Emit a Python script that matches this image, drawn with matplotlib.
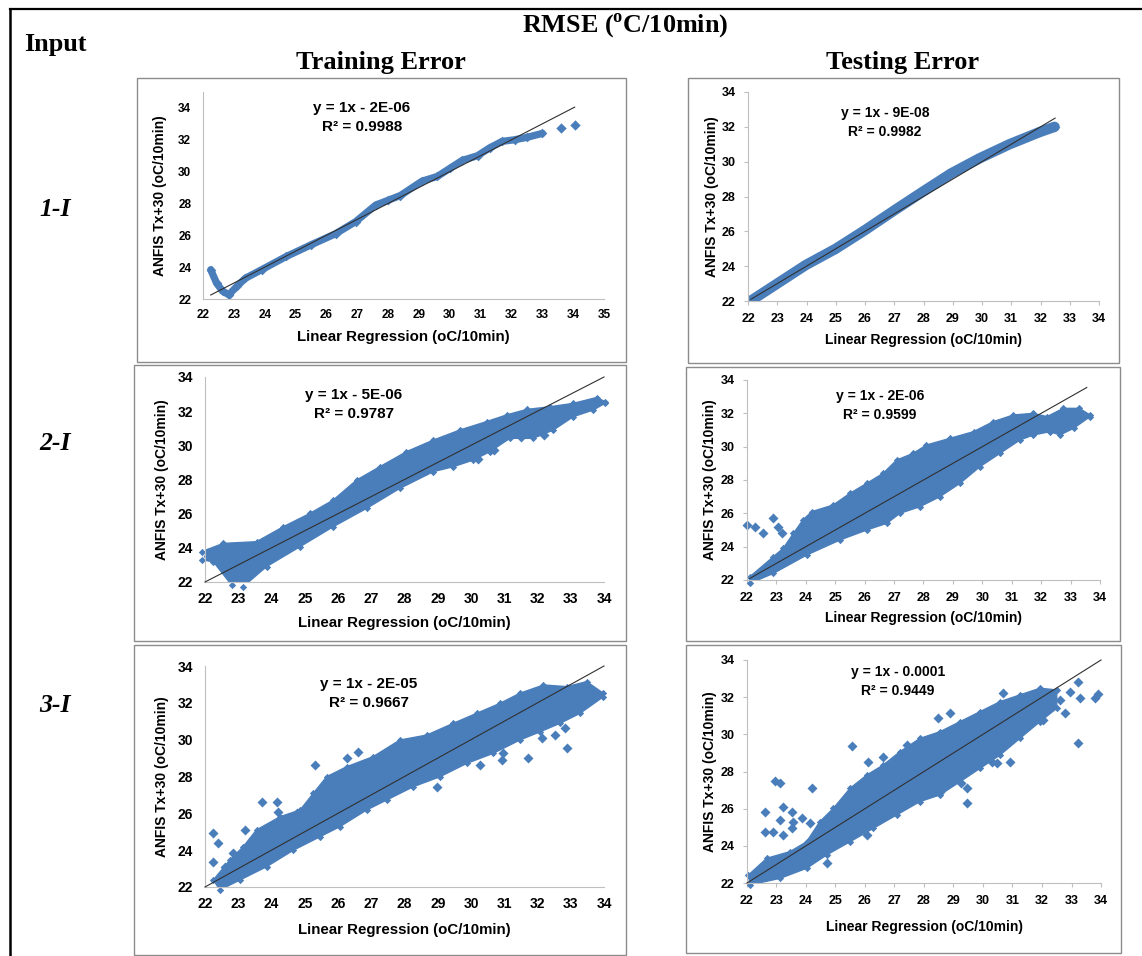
import matplotlib
matplotlib.use('Agg')
import matplotlib.pyplot as plt
from matplotlib.patches import Rectangle
from matplotlib.lines import Line2D
import numpy as np

W, H = 1142, 956
BLUE = '#4A7EBB'

# ---- 1-I training: narrow ridge of points (centre line) + two stragglers
tr1_x = [22.25, 22.44, 22.64, 22.84, 23.1, 23.37, 23.9, 24.7, 25.5, 26.3, 26.95,
         27.6, 28.0, 28.4, 29.1, 29.6, 30.0, 30.4, 30.9, 31.3, 31.7, 32.1, 32.5, 33.0]
tr1_y = [23.84, 23.0, 22.48, 22.27, 22.8, 23.3, 23.84, 24.67, 25.4, 26.1, 26.86,
         27.9, 28.2, 28.5, 29.4, 29.7, 30.2, 30.7, 31.0, 31.5, 31.9, 32.0, 32.15, 32.4]
tr1_out_x = [33.6, 34.05]
tr1_out_y = [32.75, 32.9]

# ---- 1-I testing: narrow ridge
ts1_x = [22.14, 23.0, 23.97, 25.0, 26.0, 27.0, 27.97, 28.94, 29.9, 30.94, 31.97, 32.48]
ts1_y = [22.06, 23.0, 24.06, 25.0, 26.07, 27.2, 28.27, 29.32, 30.18, 31.0, 31.7, 32.0]

# ---- 2-I training: outline of the point cloud + stray points
tr2_hi_x = [21.9, 22.55, 23.55, 24.36, 25.16, 25.86, 26.56, 27.26, 28.06, 28.87,
            29.67, 30.47, 31.07, 31.67, 32.38, 33.08, 33.78, 34.03]
tr2_hi_y = [23.78, 24.26, 24.36, 25.24, 26.02, 26.8, 27.97, 28.75, 29.63, 30.31,
            30.9, 31.39, 31.78, 32.1, 32.26, 32.46, 32.8, 32.56]
tr2_lo_x = [21.9, 22.25, 22.8, 23.15, 23.85, 24.86, 25.86, 26.86, 27.86, 28.87,
            29.47, 30.07, 30.57, 31.17, 31.87, 32.48, 33.08, 33.68, 34.03]
tr2_lo_y = [23.29, 23.19, 21.82, 21.73, 22.9, 24.07, 25.24, 26.31, 27.48, 28.46,
            28.75, 29.14, 29.63, 30.41, 30.41, 30.9, 31.68, 32.07, 32.46]
tr2_out_x = [22.1, 30.2, 30.7, 31.5, 32.2]
tr2_out_y = [23.5, 29.2, 29.7, 30.5, 30.6]

# ---- 2-I testing
ts2_hi_x = [22.1, 22.9, 23.23, 23.58, 23.9, 24.2, 24.93, 25.5, 26.07, 26.63, 27.09,
            27.65, 28.1, 28.9, 29.7, 30.37, 31.05, 31.73, 32.2, 32.75, 33.3, 33.66]
ts2_hi_y = [22.2, 23.4, 23.9, 24.8, 25.6, 26.1, 26.5, 27.2, 27.8, 28.4, 29.2,
            29.6, 30.1, 30.5, 30.9, 31.5, 31.9, 32.0, 31.8, 32.3, 32.3, 31.9]
ts2_lo_x = [22.1, 22.9, 24.03, 25.16, 26.07, 26.75, 27.2, 27.88, 28.56, 29.24,
            29.92, 30.6, 31.28, 31.73, 32.3, 32.64, 33.1, 33.66]
ts2_lo_y = [21.8, 22.4, 23.5, 24.4, 25.0, 25.4, 26.0, 26.4, 27.0, 27.8,
            28.8, 29.6, 30.4, 30.7, 30.9, 30.7, 31.1, 31.8]
ts2_out_x = [22.0, 22.27, 22.56, 22.9, 23.07, 23.18]
ts2_out_y = [25.3, 25.2, 24.8, 25.7, 25.2, 24.8]

# ---- 3-I training
tr3_hi_x = [22.25, 22.75, 23.15, 23.55, 24.26, 24.86, 25.26, 25.66, 26.26, 27.06,
            27.86, 28.67, 29.47, 30.17, 30.87, 31.47, 32.18, 32.88, 33.48, 33.98]
tr3_hi_y = [22.38, 23.47, 24.19, 25.1, 25.82, 26.18, 27.09, 27.99, 28.53, 29.08,
            29.98, 30.25, 30.89, 31.43, 31.97, 32.52, 32.97, 32.88, 33.15, 32.52]
tr3_lo_x = [22.45, 23.05, 23.85, 24.66, 25.46, 26.06, 26.86, 27.46, 28.27, 29.07,
            29.87, 30.67, 31.47, 32.08, 32.68, 33.28, 33.98]
tr3_lo_y = [21.84, 22.38, 23.1, 24.0, 24.73, 25.28, 26.18, 26.72, 27.45, 27.99,
            28.71, 29.26, 29.98, 30.43, 30.89, 31.43, 32.33]
tr3_out_x = [22.25, 22.4, 22.25, 22.6, 22.85, 23.2, 23.7, 24.16, 24.2, 24.76, 25.31, 26.26,
             26.61, 28.97, 30.27, 30.92, 30.97, 31.72, 32.13, 32.53, 32.83, 32.88, 31.17]
tr3_out_y = [24.91, 24.37, 23.38, 23.1, 23.83, 25.1, 26.63, 26.63, 26.09, 26.0, 28.62, 28.99,
             29.35, 27.45, 28.62, 28.9, 29.26, 28.99, 30.07, 30.25, 30.62, 29.53, 30.07]

# ---- 3-I testing
ts3_hi_x = [22.05, 22.67, 23.46, 24.02, 24.47, 24.93, 25.49, 26.06, 26.62, 27.19,
            27.86, 28.54, 29.22, 29.9, 30.58, 31.25, 31.93, 32.5]
ts3_hi_y = [22.43, 23.33, 23.69, 24.22, 25.3, 26.02, 27.09, 27.81, 28.35, 29.07,
            29.78, 30.14, 30.68, 31.22, 31.76, 32.12, 32.48, 32.39]
ts3_lo_x = [22.1, 23.12, 24.02, 24.7, 25.49, 26.28, 27.07, 27.86, 28.54, 29.22,
            29.9, 30.58, 31.25, 31.93, 32.5]
ts3_lo_y = [21.9, 22.25, 22.79, 23.51, 24.22, 24.94, 25.66, 26.38, 26.74, 27.45,
            28.17, 28.89, 29.78, 30.68, 31.4]
ts3_out_x = [22.95, 23.12, 24.19, 22.61, 22.61, 22.89, 23.12, 23.23, 23.51, 23.57,
             23.85, 23.23, 23.51, 24.14, 26.06, 24.7, 25.55, 26.11, 26.62, 27.41,
             28.49, 28.88, 28.54, 29.27, 29.45, 29.45, 30.29, 30.69, 30.92, 31.48,
             32.61, 32.95, 33.23, 33.29, 33.23, 33.8, 33.91, 32.78, 32.05, 30.46]
ts3_out_y = [27.49, 27.36, 27.13, 25.84, 24.76, 24.76, 25.39, 26.11, 25.84, 25.3,
             25.48, 24.58, 24.94, 25.21, 24.58, 23.06, 29.39, 28.53, 28.8, 29.43,
             30.86, 31.13, 26.91, 27.36, 27.09, 26.29, 28.53, 32.21, 28.53, 30.5,
             31.85, 32.3, 32.83, 31.94, 29.52, 31.94, 32.15, 31.13, 30.77, 28.44]

# trendline x-range and labels, panel order: 1-I train, 1-I test, 2-I train, 2-I test, 3-I train, 3-I test
trend_start = [22.25, 22.1, 22.0, 22.1, 22.0, 22.0]
trend_end = [34.05, 32.5, 34.0, 33.55, 34.0, 34.0]
equations = ['y = 1x - 2E-06', 'y = 1x - 9E-08', 'y = 1x - 5E-06',
             'y = 1x - 2E-06', 'y = 1x - 2E-05', 'y = 1x - 0.0001']
r_squared = ['R² = 0.9988', 'R² = 0.9982', 'R² = 0.9787',
             'R² = 0.9599', 'R² = 0.9667', 'R² = 0.9449']
row_labels = ['1-I', '2-I', '3-I']
x_max = [35, 34, 34, 34, 34, 34]
y_ticks = list(range(22, 35, 2))

plt.rcParams['font.family'] = 'Liberation Sans'
plt.rcParams['font.weight'] = 'bold'
plt.rcParams['mathtext.fontset'] = 'custom'
plt.rcParams['mathtext.rm'] = 'Liberation Serif'
plt.rcParams['mathtext.bf'] = 'Liberation Serif:bold'

fig = plt.figure(figsize=(W / 100, H / 100), dpi=100)


def fx(px):
    return px / W


def fy(py):
    return 1 - py / H


def px_axes(l, r, t, b):
    return fig.add_axes([fx(l), fy(b), (r - l) / W, (b - t) / H])


# table rules
fig.add_artist(Line2D([fx(10), 1], [fy(9), fy(9)], color='black', lw=1.6))
fig.add_artist(Line2D([fx(10), fx(10)], [fy(9), 0], color='black', lw=1.8))

serif = 'Liberation Serif'
fig.text(fx(625), fy(26), r'RMSE ($^{\mathbf{o}}$C/10min)', family=serif, weight='bold',
         fontsize=18.8, ha='center', va='center')
fig.text(fx(55), fy(45), 'Input', family=serif, weight='bold', fontsize=18.8, ha='center', va='center')
fig.text(fx(381), fy(63), 'Training Error', family=serif, weight='bold', fontsize=19,
         ha='center', va='center')
fig.text(fx(903), fy(63), 'Testing Error', family=serif, weight='bold', fontsize=19,
         ha='center', va='center')
for lab, yy in zip(row_labels, [210, 443, 705]):
    fig.text(fx(55), fy(yy), lab, family=serif, weight='bold', style='italic', fontsize=18.5,
             ha='center', va='center')

# panel frames (l, r, t, b in px)
frames = [(137, 626, 78, 362), (688, 1119, 78, 363), (134, 626, 365, 641),
          (686, 1120, 367, 641), (134, 626, 645, 955), (686, 1121, 645, 953)]
for l, r, t, b in frames:
    fig.add_artist(Rectangle((fx(l), fy(b)), (r - l) / W, (b - t) / H, transform=fig.transFigure,
                             fill=False, ec='#8C8C8C', lw=1.0))

# axes plot areas: left, right, top, bottom px (top = y max)
boxes = [(203, 604, 92, 299), (748, 1099, 92, 301), (205, 604, 377, 582),
         (747, 1100, 380, 580), (205, 604, 666, 887), (747, 1101, 660, 883)]
y_top = [35, 34, 34, 34, 34, 34]
eq_pos = [(362, 108), (885, 113), (354, 395), (880, 396), (369, 684), (898, 672)]
xlab_off = [38, 39, 41, 38, 43, 44]
ylab_off = [43, 36, 43, 37, 43, 37]
tick_fs = [8.5, 9, 10, 9, 10, 9]
label_fs = [10.8, 10, 10.8, 10, 10.8, 10]
eq_fs = [11, 10, 11, 10, 11, 10]

ridges = {0: (tr1_x, tr1_y, 5.2), 1: (ts1_x, ts1_y, 7.5)}
bands = {2: (tr2_hi_x, tr2_hi_y, tr2_lo_x, tr2_lo_y, tr2_out_x, tr2_out_y),
         3: (ts2_hi_x, ts2_hi_y, ts2_lo_x, ts2_lo_y, ts2_out_x, ts2_out_y),
         4: (tr3_hi_x, tr3_hi_y, tr3_lo_x, tr3_lo_y, tr3_out_x, tr3_out_y),
         5: (ts3_hi_x, ts3_hi_y, ts3_lo_x, ts3_lo_y, ts3_out_x, ts3_out_y)}

for i, (l, r, t, b) in enumerate(boxes):
    ax = px_axes(l, r, t, b)
    testing = i % 2 == 1
    ax.set_xlim(22, x_max[i])
    ax.set_ylim(22, y_top[i])
    ax.set_xticks(range(22, x_max[i] + 1))
    ax.set_yticks(y_ticks)
    for s in ['top', 'right']:
        ax.spines[s].set_visible(False)
    for s in ['left', 'bottom']:
        ax.spines[s].set_color('#BFBFBF')
        ax.spines[s].set_linewidth(0.8)
    tick_len = 3 if testing else 0
    ax.tick_params(length=tick_len, width=0.8, color='#BFBFBF', labelsize=tick_fs[i])
    ax.tick_params(axis='x', pad=5.5 if testing else 7)
    ax.tick_params(axis='y', pad=5.8 if testing else 8.5)
    for lbl in ax.get_xticklabels() + ax.get_yticklabels():
        lbl.set_fontweight('bold')

    if i in ridges:
        rx, ry, lw = ridges[i]
        ax.plot(rx, ry, color=BLUE, lw=lw, solid_capstyle='round', solid_joinstyle='round', zorder=2)
        ax.scatter(rx, ry, marker='D', s=24, color=BLUE, linewidths=0, zorder=2)
        if i == 0:
            ax.scatter(tr1_out_x, tr1_out_y, marker='D', s=28, color=BLUE, linewidths=0,
                       zorder=2, clip_on=False)
    else:
        hx, hy, lx, ly, ox, oy = bands[i]
        ax.fill(np.r_[hx, lx[::-1]], np.r_[hy, ly[::-1]], color=BLUE, lw=1, zorder=2)
        ax.scatter(hx + lx, hy + ly, marker='D', s=14, color=BLUE, linewidths=0, zorder=2,
                   clip_on=False)
        ax.scatter(ox, oy, marker='D', s=26, color=BLUE, linewidths=0, zorder=2, clip_on=False)

    tx = np.array([trend_start[i], trend_end[i]])
    ax.plot(tx, tx, color='#303030', lw=0.8, zorder=3, clip_on=False)

    ax.set_xlabel('Linear Regression (oC/10min)', fontsize=label_fs[i], fontweight='bold', va='center')
    ax.set_ylabel('ANFIS Tx+30 (oC/10min)', fontsize=10, fontweight='bold', va='center', ha='center')
    ax.xaxis.set_label_coords(0.5, -xlab_off[i] / (b - t))
    ax.yaxis.set_label_coords(-ylab_off[i] / (r - l), 0.5)

    ex, ey = eq_pos[i]
    fig.text(fx(ex), fy(ey), equations[i], fontsize=eq_fs[i], fontweight='bold', ha='center', va='center')
    fig.text(fx(ex), fy(ey + 19), r_squared[i], fontsize=eq_fs[i], fontweight='bold', ha='center',
             va='center')

fig.savefig('out.png', dpi=100)
